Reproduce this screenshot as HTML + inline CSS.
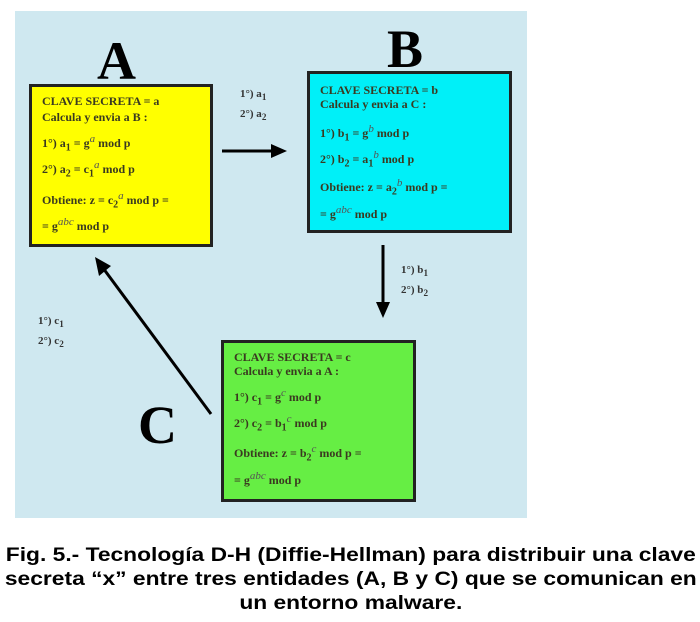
<!DOCTYPE html>
<html><head><meta charset="utf-8"><style>
body{margin:0;width:700px;height:622px;background:#fff;position:relative;overflow:hidden;font-family:"Liberation Serif",serif}
.bg{position:absolute;left:15px;top:11px;width:512px;height:507px;background:#cfe8f0}
.box{position:absolute;border:3px solid #222;box-sizing:border-box;font-weight:bold;font-size:12px;color:#3a3a20}
.box div{position:absolute;left:10px;white-space:nowrap}
sup{font-style:italic;font-weight:normal;font-size:11px;color:#555}
.big{position:absolute;font-weight:bold;font-size:54px;color:#000;line-height:1}
.lbl{position:absolute;font-size:11px;color:#333;line-height:17px;font-weight:bold}
.cap{position:absolute;left:0;width:700px;text-align:center;font-family:"Liberation Sans",sans-serif;font-weight:bold;font-size:19px;color:#000;transform:scaleX(1.2);transform-origin:346px 0}
</style></head><body>
<div class="bg"></div>
<div class="big" style="left:97px;top:34px">A</div>
<div class="big" style="left:387px;top:22px">B</div>
<div class="big" style="left:138px;top:398px">C</div>

<div class="box" style="left:29px;top:84px;width:184px;height:163px;background:#ffff00">
<div style="top:7px">CLAVE SECRETA = a</div>
<div style="top:23px">Calcula y envia a B :</div>
<div style="top:46px">1°) a<sub>1</sub> = g<sup>a</sup> mod p</div>
<div style="top:72px">2°) a<sub>2</sub> = c<sub>1</sub><sup>a</sup> mod p</div>
<div style="top:103px">Obtiene:  z = c<sub>2</sub><sup>a</sup> mod p  =</div>
<div style="top:129px">= g<sup>abc</sup>  mod p</div>
</div>

<div class="box" style="left:307px;top:71px;width:205px;height:162px;background:#00f0f8">
<div style="top:9px">CLAVE SECRETA = b</div>
<div style="top:23px">Calcula y envia a C :</div>
<div style="top:49px">1°) b<sub>1</sub> = g<sup>b</sup> mod p</div>
<div style="top:75px">2°) b<sub>2</sub> = a<sub>1</sub><sup>b</sup> mod p</div>
<div style="top:103px">Obtiene: z = a<sub>2</sub><sup>b</sup> mod p =</div>
<div style="top:130px">= g<sup>abc</sup>  mod p</div>
</div>

<div class="box" style="left:221px;top:340px;width:195px;height:162px;background:#66ee44">
<div style="top:7px">CLAVE SECRETA = c</div>
<div style="top:21px">Calcula y envia a A :</div>
<div style="top:44px">1°) c<sub>1</sub> = g<sup>c</sup> mod p</div>
<div style="top:70px">2°) c<sub>2</sub> = b<sub>1</sub><sup>c</sup> mod p</div>
<div style="top:100px">Obtiene:  z = b<sub>2</sub><sup>c</sup> mod p =</div>
<div style="top:127px">= g<sup>abc</sup>  mod p</div>
</div>

<div class="lbl" style="left:240px;top:86px">1°) a<sub>1</sub><br>2°) a<sub>2</sub></div>
<div class="lbl" style="left:401px;top:262px">1°) b<sub>1</sub><br>2°) b<sub>2</sub></div>
<div class="lbl" style="left:38px;top:313px">1°) c<sub>1</sub><br>2°) c<sub>2</sub></div>

<svg style="position:absolute;left:0;top:0" width="700" height="622">
<g stroke="#000" stroke-width="3" fill="#000">
<line x1="222" y1="151" x2="273" y2="151"/>
<polygon points="287,151 271,144 271,158" stroke="none"/>
<line x1="383" y1="245" x2="383" y2="304"/>
<polygon points="383,318 376,302 390,302" stroke="none"/>
<line x1="211" y1="414" x2="103" y2="268"/>
<polygon points="95,257 99,276 111,266" stroke="none"/>
</g></svg>

<div class="cap" style="top:545px">Fig. 5.- Tecnología D-H (Diffie-Hellman) para distribuir una clave</div>
<div class="cap" style="top:569px">secreta “x” entre tres entidades (A, B y C) que se comunican en</div>
<div class="cap" style="top:593px">un entorno malware.</div>
</body></html>
